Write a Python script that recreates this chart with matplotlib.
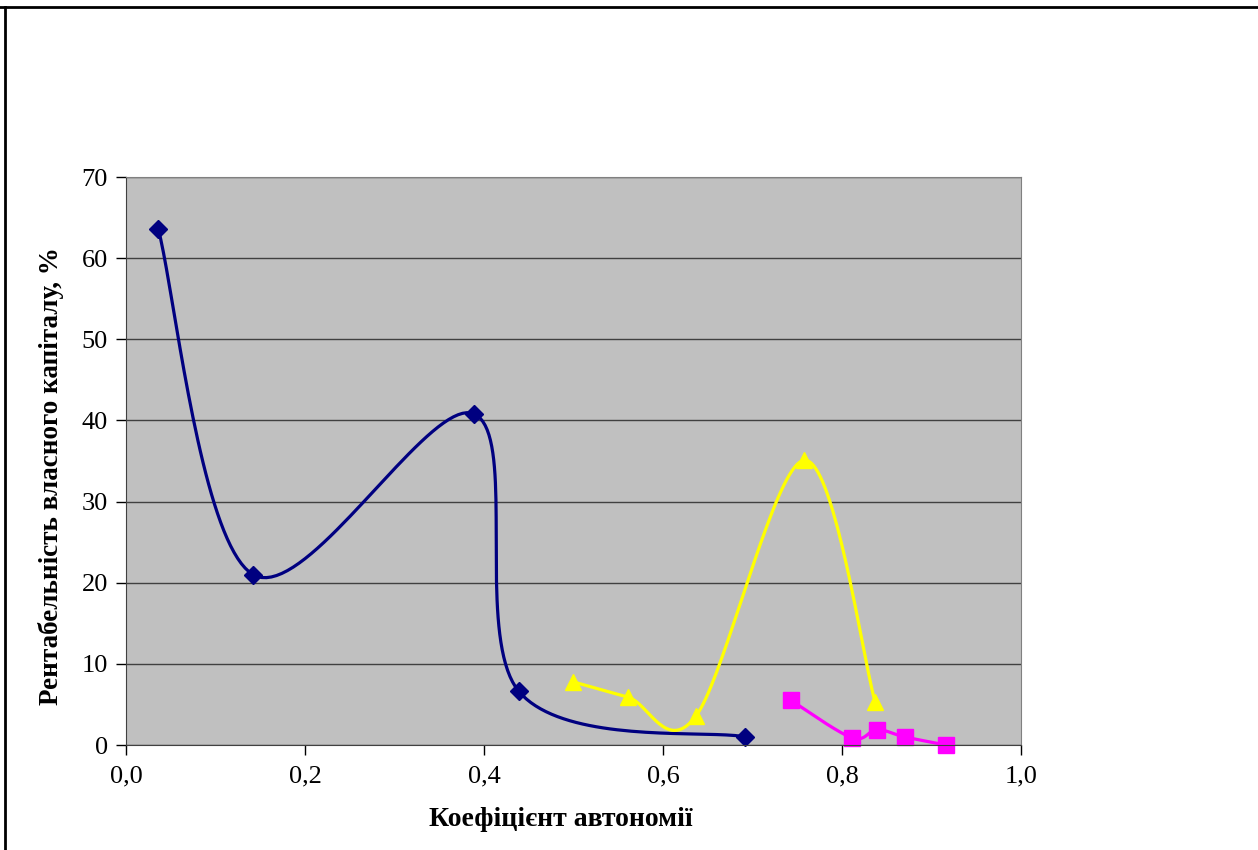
import numpy as np
import matplotlib.pyplot as plt
from matplotlib.lines import Line2D

plt.rcParams['font.family'] = ['Liberation Serif', 'DejaVu Serif']

# data
blue_x = [0.036, 0.142, 0.389, 0.439, 0.692]
blue_y = [63.6, 21.0, 40.8, 6.6, 1.0]

yellow_x = [0.499, 0.561, 0.637, 0.758, 0.837]
yellow_y = [7.8, 5.9, 3.6, 35.1, 5.3]

pink_x = [0.743, 0.811, 0.839, 0.870, 0.916]
pink_y = [5.5, 0.9, 1.9, 1.0, 0.0]

x_ticks = [0.0, 0.2, 0.4, 0.6, 0.8, 1.0]
x_labels = ['0,0', '0,2', '0,4', '0,6', '0,8', '1,0']
y_ticks = [0, 10, 20, 30, 40, 50, 60, 70]


def smooth(ax, xs, ys, n=40):
    # excel-like smoothing: catmull-rom bezier computed in pixel space
    pts = ax.transData.transform(np.column_stack([xs, ys]))
    pts = np.vstack([pts[0], pts, pts[-1]])
    out = []
    for i in range(1, len(pts) - 2):
        p0, p1, p2, p3 = pts[i - 1], pts[i], pts[i + 1], pts[i + 2]
        c1 = p1 + (p2 - p0) / 6
        c2 = p2 - (p3 - p1) / 6
        t = np.linspace(0, 1, n)[:, None]
        seg = ((1 - t) ** 3 * p1 + 3 * (1 - t) ** 2 * t * c1
               + 3 * (1 - t) * t ** 2 * c2 + t ** 3 * p2)
        out.append(seg)
    curve = ax.transData.inverted().transform(np.vstack(out))
    return curve[:, 0], curve[:, 1]


fig = plt.figure(figsize=(12.58, 8.5), dpi=100)
ax = fig.add_axes([126 / 1258, 105 / 850, 895 / 1258, 568 / 850])
ax.set_facecolor('#c0c0c0')
ax.set_xlim(0, 1.0)
ax.set_ylim(0, 70)

ax.set_xticks(x_ticks)
ax.set_xticklabels(x_labels)
ax.set_yticks(y_ticks)
ax.tick_params(labelsize=19, direction='out', length=7, width=1, pad=8)
ax.tick_params(axis='y', pad=6)
ax.grid(axis='y', color='#404040', linewidth=1)
ax.set_axisbelow(True)
for s in ['top', 'right']:
    ax.spines[s].set_color('#808080')
for s in ['left', 'bottom']:
    ax.spines[s].set_color('#404040')

ax.set_xlabel('Коефіцієнт автономії', fontsize=20, fontweight='bold')
ax.set_ylabel('Рентабельність власного капіталу, %', fontsize=19.5, fontweight='bold')
ax.xaxis.set_label_coords(0.486, -0.109)
ax.yaxis.set_label_coords(-0.069, 0.4736)

fig.canvas.draw()

sx, sy = smooth(ax, blue_x, blue_y)
ax.plot(sx, sy, color='#000080', lw=2.3, clip_on=False)
ax.plot(blue_x, blue_y, 'D', color='#000080', ms=9, clip_on=False)

sx, sy = smooth(ax, yellow_x, yellow_y)
ax.plot(sx, sy, color='#ffff00', lw=2.3, clip_on=False)
ax.plot(yellow_x, yellow_y, '^', color='#ffff00', ms=12, clip_on=False)

sx, sy = smooth(ax, pink_x, pink_y)
ax.plot(sx, sy, color='#ff00ff', lw=2.3, clip_on=False)
ax.plot(pink_x, pink_y, 's', color='#ff00ff', ms=12, clip_on=False)

# page border lines
fig.add_artist(Line2D([0, 1], [1 - 7 / 850, 1 - 7 / 850], color='black', lw=2))
fig.add_artist(Line2D([5 / 1258, 5 / 1258], [0, 1 - 7 / 850], color='black', lw=2))

fig.savefig('out.png', dpi=100)
